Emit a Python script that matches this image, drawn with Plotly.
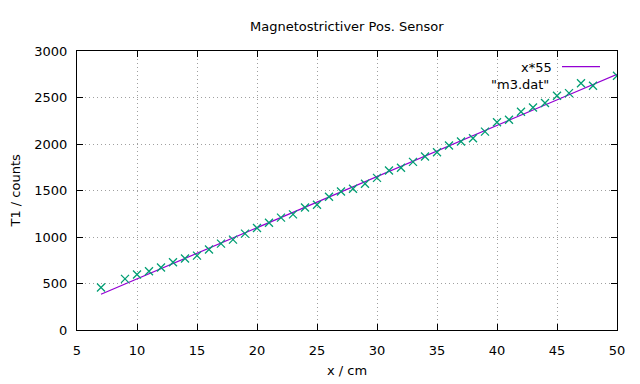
import plotly.graph_objects as go
import numpy as np

x_data = [7, 9, 10, 11, 12, 13, 14, 15, 16, 17, 18, 19, 20, 21, 22, 23, 24, 25, 26, 27, 28, 29,
          30, 31, 32, 33, 34, 35, 36, 37, 38, 39, 40, 41, 42, 43, 44, 45, 46, 48, 50]
y_data = [457, 550, 597, 632, 672, 729, 768, 800, 865, 929, 972, 1036, 1097, 1154, 1208, 1243,
          1318, 1347, 1433, 1490, 1519, 1572, 1636, 1715, 1744, 1808, 1865, 1912, 1983, 2026,
          2061, 2133, 2233, 2261, 2347, 2393, 2440, 2519, 2547, 2626, 2733]
slope = 55
x_ticks = [5, 10, 15, 20, 25, 30, 35, 40, 45, 50]
y_ticks = [0, 500, 1000, 1500, 2000, 2500, 3000]

PURPLE = "#9400D3"
GREEN = "#009E73"
FONT = "DejaVu Sans"
FS = 13

# page has an 8px body margin, so figure coords = screen coords - 8
L, R, T, B = 69, 31, 43, 62
W, H = 640, 384
px0, px1 = L, W - R
py0, py1 = T, H - B

fx = np.linspace(min(x_data), max(x_data), 100)
fig = go.Figure()
fig.add_trace(go.Scatter(x=fx, y=fx * slope, mode="lines",
                         line=dict(color=PURPLE, width=1.2), showlegend=False))
fig.add_trace(go.Scatter(x=x_data, y=y_data, mode="markers",
                         marker=dict(symbol="x-thin", size=8, line=dict(color=GREEN, width=1.3)),
                         showlegend=False))
# manual gnuplot-style key (screen-pixel coordinates, minus 8px page offset)
fig.add_trace(go.Scatter(x=[562 - 8, 600 - 8], y=[66.7 - 8, 66.7 - 8], mode="lines",
                         xaxis="x2", yaxis="y2",
                         line=dict(color=PURPLE, width=1.2), showlegend=False, hoverinfo="skip"))
fig.add_trace(go.Scatter(x=[581 - 8], y=[83.3 - 8], mode="markers", xaxis="x2", yaxis="y2",
                         marker=dict(symbol="x-thin", size=8, line=dict(color=GREEN, width=1.3)),
                         showlegend=False, hoverinfo="skip"))

axis_common = dict(showline=True, linecolor="black", linewidth=1, mirror="allticks",
                   ticks="inside", ticklen=6, tickcolor="black", tickwidth=1,
                   showgrid=True, gridcolor="#a0a0a0", griddash="1px,3px", gridwidth=1,
                   zeroline=False, tickfont=dict(family=FONT, size=FS, color="black"))

fig.update_layout(
    width=W, height=H,
    margin=dict(l=L, r=R, t=T, b=B),
    paper_bgcolor="white", plot_bgcolor="white",
    font=dict(family=FONT, size=FS, color="black"),
    xaxis=dict(range=[5, 50], tickvals=x_ticks, ticklabelstandoff=8, **axis_common),
    yaxis=dict(range=[0, 3000], tickvals=y_ticks, ticklabelstandoff=6, **axis_common),
    xaxis2=dict(range=[px0, px1], overlaying="x", visible=False),
    yaxis2=dict(range=[py1, py0], overlaying="y", visible=False),
    annotations=[
        dict(text="Magnetostrictiver Pos. Sensor", xref="paper", yref="paper", x=0.5, y=1,
             yshift=25, showarrow=False, xanchor="center", yanchor="middle"),
        dict(text="x / cm", xref="paper", yref="paper", x=0.5, y=0, yshift=-40,
             showarrow=False, xanchor="center", yanchor="middle"),
        dict(text="T1 / counts", xref="paper", yref="paper", x=0, y=0.5, xshift=-62,
             showarrow=False, textangle=-90, xanchor="center", yanchor="middle"),
        dict(text="x*55", xref="paper", yref="paper", x=1, y=1, xshift=-63, yshift=-16,
             showarrow=False, xanchor="right", yanchor="middle"),
        dict(text="\"m3.dat\"", xref="paper", yref="paper", x=1, y=1, xshift=-66, yshift=-33,
             showarrow=False, xanchor="right", yanchor="middle"),
    ],
)
fig.write_html("out.html")
